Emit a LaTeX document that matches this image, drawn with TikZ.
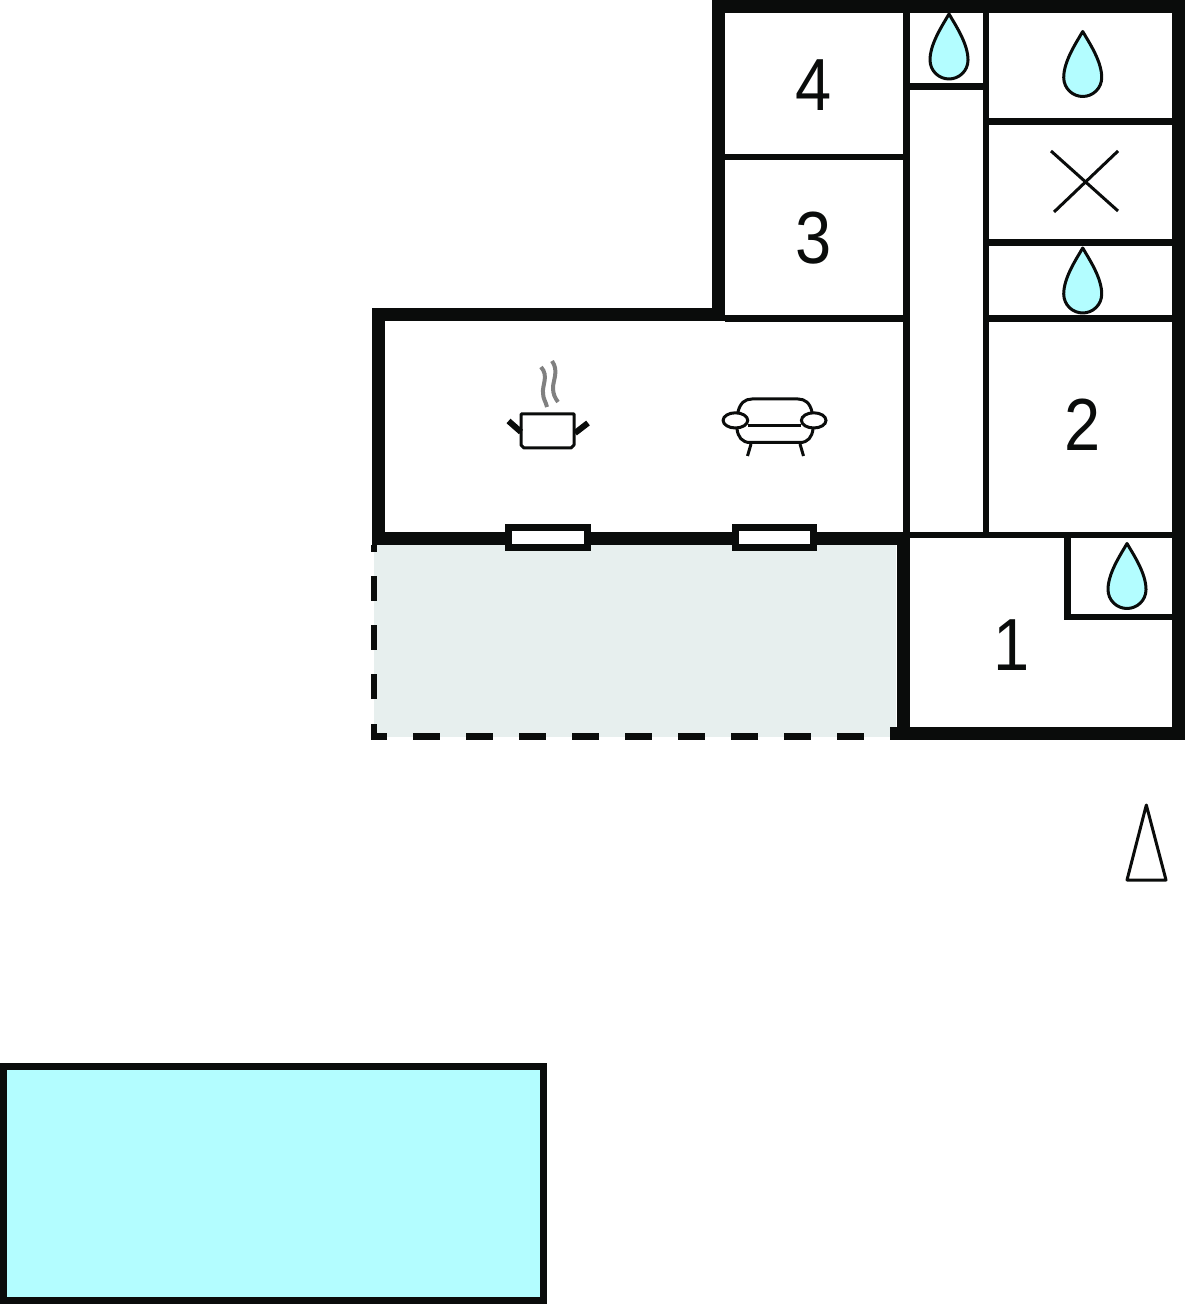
\documentclass[tikz,border=0pt]{standalone}
\usepackage{fontspec}
\setmainfont{Liberation Sans}
\usepackage{xcolor}
\definecolor{waterblue}{HTML}{B3FDFF}
\definecolor{terracegrey}{HTML}{E7EFEE}
\definecolor{wallblack}{HTML}{0A0C0B}
\tikzset{
  outerwall/.style={draw=wallblack, line width=0.13cm},
  innerwall/.style={draw=wallblack, line width=0.067cm},
  symbolline/.style={draw=wallblack, line width=0.03cm},
  roomnumber/.style={font=\fontsize{21}{21}\selectfont, text=wallblack, inner sep=0pt, xscale=0.88},
  waterdrop/.pic={
    \draw[symbolline, fill=waterblue, line join=round] (0,0) .. controls (7,12) and (19,30) .. (19,46)
      .. controls (19,57) and (10,65) .. (0,65) .. controls (-10,65) and (-19,57) .. (-19,46)
      .. controls (-19,30) and (-7,12) .. (0,0) -- cycle;
  }
}

\begin{document}
\begin{tikzpicture}[x=0.01cm, y=-0.01cm]
    \useasboundingbox (0,0) rectangle (1196,1304);

    % Terrace
    \fill[terracegrey] (374,545) rectangle (896,737);
    \draw[innerwall] (374,545) -- (374,552);
    \foreach \y in {576,625,674} {
        \draw[innerwall] (374,\y) -- (374,\y+25);
    }
    \draw[innerwall] (374,724) -- (374,736.5) -- (387,736.5);
    \foreach \x in {413,466,519,572,625,678,731,784,837} {
        \draw[innerwall] (\x,736.5) -- (\x+27,736.5);
    }

    % Outer walls
    \draw[outerwall] (378.5,545) -- (378.5,314.5) -- (718.5,314.5) -- (718.5,6.5)
        -- (1178.5,6.5) -- (1178.5,733.5) -- (890,733.5);
    \draw[outerwall] (372,538.5) -- (904,538.5);
    \draw[outerwall] (903.5,733) -- (903.5,532);

    % Inner walls
    \draw[innerwall] (906.8,13) -- (906.8,532);
    \draw[innerwall] (986,13) -- (986,532);
    \draw[innerwall] (910,86.2) -- (983,86.2);
    \draw[innerwall] (989,121.4) -- (1172,121.4);
    \draw[innerwall] (989,242.6) -- (1172,242.6);
    \draw[innerwall] (725,157) -- (904,157);
    \draw[innerwall] (725,318.5) -- (904,318.5);
    \draw[innerwall] (989,318.6) -- (1172,318.6);
    \draw[innerwall] (910,535) -- (1172,535);
    \draw[innerwall] (1067.5,538) -- (1067.5,617) -- (1172,617);

    % Windows
    \draw[innerwall, fill=white] (508.5,527.7) rectangle (587.5,547.3);
    \draw[innerwall, fill=white] (735.2,527.7) rectangle (813.5,547.3);

    % Room numbers
    \node[roomnumber] (room4) at (814,85) {4};
    \node[roomnumber] (room3) at (814,238) {3};
    \node[roomnumber] (room2) at (1083,425) {2};
    \node[roomnumber] (room1) at (1012,645) {1};

    % Bathroom drops
    \pic at (949,14) {waterdrop};
    \pic at (1082.7,31.5) {waterdrop};
    \pic at (1082.7,248) {waterdrop};
    \pic at (1127,543.5) {waterdrop};

    % Bedroom cross
    \draw[symbolline] (1051,151) -- (1118,211);
    \draw[symbolline] (1118,151) -- (1054,212);

    % Cooking pot
    \draw[symbolline, line join=round] (521,414) -- (574,414) -- (574,445) -- (571,448)
        -- (524,448) -- (521,445) -- cycle;
    \draw[draw=wallblack, line width=0.06cm] (508.5,421) -- (521,432);
    \draw[draw=wallblack, line width=0.06cm] (588,423) -- (575,433);
    \draw[gray, line width=0.04cm] (541,367) .. controls (549,376) and (542,385) .. (543,393) .. controls (543,399) and (546,402) .. (547,407);
    \draw[gray, line width=0.04cm] (552,361) .. controls (559,371) and (553,380) .. (553,388) .. controls (553,394) and (555,398) .. (558,402);

    % Sofa
    \draw[symbolline, line cap=round] (738,412) .. controls (740,403) and (745,399) .. (752,399) -- (798,399)
        .. controls (805,399) and (810,403) .. (812,412);
    \draw[symbolline, line cap=round] (737,429) .. controls (738,437) and (742,442.5) .. (750,442.5) -- (800,442.5)
        .. controls (808,442.5) and (812,437) .. (813,429);
    \draw[symbolline] (748,425.5) -- (801,425.5);
    \draw[symbolline] (735.4,420.4) ellipse (12.3 and 7.6);
    \draw[symbolline] (813.7,420.4) ellipse (12.3 and 7.6);
    \draw[symbolline] (751,444) -- (747.5,456);
    \draw[symbolline] (800,444) -- (803.5,456);

    % North arrow
    \draw[symbolline, line join=round] (1146.3,805) -- (1166,880) -- (1127,880) -- cycle;

    % Pool
    \draw[outerwall, line width=0.07cm, fill=waterblue] (3.4,1066.7) rectangle (543.6,1300.6);
\end{tikzpicture}
\end{document}
